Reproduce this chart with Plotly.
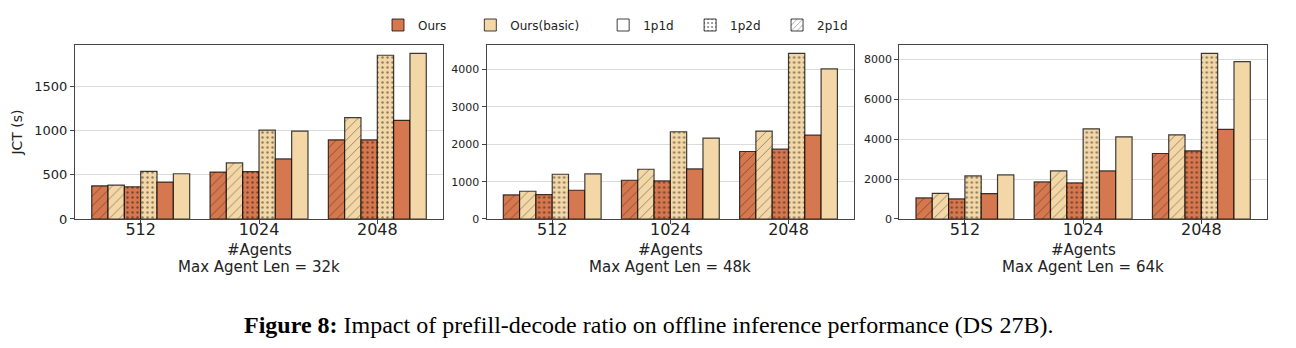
import plotly.graph_objects as go

# Offline inference JCT (seconds) per number of agents, for three max agent lengths
agents = ["512", "1024", "2048"]
panel_titles = ["Max Agent Len = 32k", "Max Agent Len = 48k", "Max Agent Len = 64k"]

# 32k
ours_2p1d_32k = [375, 530, 894]
basic_2p1d_32k = [383, 633, 1144]
ours_1p2d_32k = [364, 534, 894]
basic_1p2d_32k = [538, 1003, 1849]
ours_1p1d_32k = [417, 678, 1114]
basic_1p1d_32k = [511, 992, 1871]

# 48k
ours_2p1d_48k = [644, 1038, 1808]
basic_2p1d_48k = [743, 1333, 2354]
ours_1p2d_48k = [653, 1020, 1871]
basic_1p2d_48k = [1199, 2336, 4438]
ours_1p1d_48k = [770, 1342, 2246]
basic_1p1d_48k = [1208, 2166, 4018]

# 64k
ours_2p1d_64k = [1057, 1862, 3287]
basic_2p1d_64k = [1291, 2415, 4226]
ours_1p2d_64k = [1006, 1811, 3421]
basic_1p2d_64k = [2164, 4528, 8319]
ours_1p1d_64k = [1275, 2415, 4495]
basic_1p1d_64k = [2214, 4126, 7899]

y_ticks_32k = [0, 500, 1000, 1500]
y_ticks_48k = [0, 1000, 2000, 3000, 4000]
y_ticks_64k = [0, 2000, 4000, 6000, 8000]

OURS = "#D6784F"
BASIC = "#F3D7A7"
EDGE = "rgba(0,0,0,0.75)"

panels = [
    [ours_2p1d_32k, basic_2p1d_32k, ours_1p2d_32k, basic_1p2d_32k, ours_1p1d_32k, basic_1p1d_32k],
    [ours_2p1d_48k, basic_2p1d_48k, ours_1p2d_48k, basic_1p2d_48k, ours_1p1d_48k, basic_1p1d_48k],
    [ours_2p1d_64k, basic_2p1d_64k, ours_1p2d_64k, basic_1p2d_64k, ours_1p1d_64k, basic_1p1d_64k],
]
ticks = [y_ticks_32k, y_ticks_48k, y_ticks_64k]
bar_styles = [(OURS, "/"), (BASIC, "/"), (OURS, "."), (BASIC, "."), (OURS, ""), (BASIC, "")]

x_domains = [(0.0579, 0.3418), (0.3755, 0.6590), (0.6939, 0.9776)]
y_domain = (0.3707, 0.8707)

n_bars = 6
bar_w = 0.138
cat_pos = list(range(len(agents)))

fig = go.Figure()

for p, series in enumerate(panels):
    xa = "x" if p == 0 else f"x{p + 1}"
    ya = "y" if p == 0 else f"y{p + 1}"
    for b, vals in enumerate(series):
        color, shape = bar_styles[b]
        offset = (b - (n_bars - 1) / 2) * bar_w
        fig.add_trace(go.Bar(
            x=[c + offset for c in cat_pos], y=vals, width=bar_w,
            xaxis=xa, yaxis=ya, showlegend=False,
            marker=dict(
                color=color,
                line=dict(color=EDGE, width=1.2),
                pattern=dict(shape=shape, fgcolor="rgba(0,0,0,0.85)", bgcolor=color,
                             size=7 if shape == "/" else 5, solidity=0.18 if shape == "." else 0.12,
                             fillmode="overlay"),
            ),
        ))

# Legend entries (trailing no-break spaces widen the gap between items)
legend_items = [
    ("Ours", OURS, ""),
    ("Ours(basic)", BASIC, ""),
    ("1p1d", "white", ""),
    ("1p2d", "white", "."),
    ("2p1d", "white", "/"),
]
legend_gaps = [5, 5, 3, 3, 0]
for (name, color, shape), gap in zip(legend_items, legend_gaps):
    fig.add_trace(go.Bar(
        x=[None], y=[None], name=name + "\u00a0" * gap, xaxis="x", yaxis="y",
        marker=dict(color=color, line=dict(color=EDGE, width=1),
                    pattern=dict(shape=shape, fgcolor="black", bgcolor=color, size=5,
                                 solidity=0.2 if shape == "." else 0.15, fillmode="overlay")),
    ))

layout = dict(
    width=1296, height=348,
    margin=dict(l=0, r=0, t=0, b=0, autoexpand=False),
    paper_bgcolor="white", plot_bgcolor="white",
    barmode="overlay",
    font=dict(family="DejaVu Sans", color="#222"),
    legend=dict(orientation="h", x=378 / 1296, xanchor="left", y=1 - 25 / 348, yanchor="middle",
                font=dict(size=12, family="DejaVu Sans", color="#222"),
                itemwidth=30, tracegroupgap=0),
    showlegend=True,
)

tick_sizes = [13, 11, 11]
for p in range(3):
    sfx = "" if p == 0 else str(p + 1)
    top = max(max(s) for s in panels[p]) * 1.05
    layout["xaxis" + sfx] = dict(
        domain=list(x_domains[p]), anchor="y" + sfx,
        range=[-0.555, 2.555], tickmode="array", tickvals=cat_pos, ticktext=agents,
        tickfont=dict(family="DejaVu Sans", size=16, color="#222"),
        ticks="outside", ticklen=4, tickcolor="#444", ticklabelstandoff=-8,
        showline=True, linecolor="#444", linewidth=1.2, mirror=True,
        showgrid=False, zeroline=False,
    )
    layout["yaxis" + sfx] = dict(
        domain=list(y_domain), anchor="x" + sfx,
        range=[0, top], tickmode="array", tickvals=ticks[p],
        tickfont=dict(family="DejaVu Sans", size=tick_sizes[p], color="#222"),
        ticks="outside", ticklen=4, tickcolor="#444",
        showline=True, linecolor="#444", linewidth=1.2, mirror=True,
        showgrid=True, gridcolor="rgba(0,0,0,0.14)", gridwidth=1, zeroline=False,
    )
layout["yaxis"]["title"] = dict(text="JCT (s)", font=dict(size=14, family="DejaVu Sans", color="#222"),
                                standoff=8)

annotations = []
for p in range(3):
    cx = (x_domains[p][0] + x_domains[p][1]) / 2
    annotations.append(dict(text="#Agents", x=cx, y=1 - 250 / 348, xref="paper", yref="paper",
                            showarrow=False, font=dict(size=15, family="DejaVu Sans", color="#222"),
                            xanchor="center", yanchor="middle"))
    annotations.append(dict(text=panel_titles[p], x=cx, y=1 - 267 / 348, xref="paper", yref="paper",
                            showarrow=False, font=dict(size=15, family="DejaVu Sans", color="#222"),
                            xanchor="center", yanchor="middle"))
annotations.append(dict(
    text="<b>Figure 8:</b> Impact of prefill-decode ratio on offline inference performance (DS 27B).",
    x=0.5, y=1 - 325 / 348, xref="paper", yref="paper", showarrow=False,
    font=dict(size=24, family="Liberation Serif", color="black"),
    xanchor="center", yanchor="middle"))
layout["annotations"] = annotations

fig.update_layout(**layout)
fig.write_html("out.html")
